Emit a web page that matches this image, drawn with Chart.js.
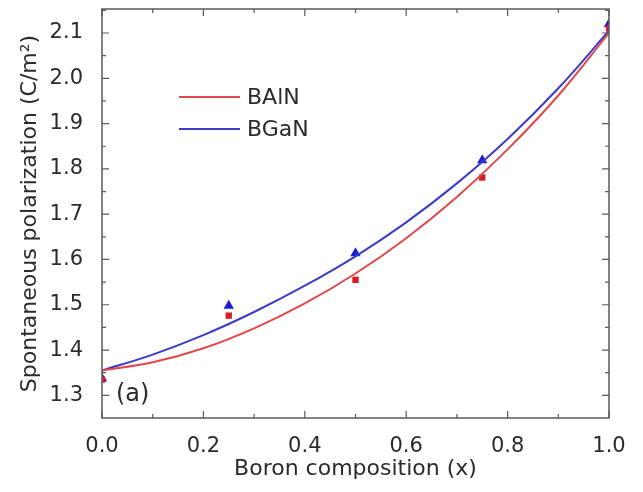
<!DOCTYPE html>
<html>
<head>
  <title>Spontaneous polarization vs boron composition</title>
  <script src="https://cdn.jsdelivr.net/npm/chart.js"></script>
  <style>
    body { margin: 0; background: #fff; }
    #wrap { width: 643px; height: 492px; }
  </style>
</head>
<body>
  <div id="wrap"><canvas id="polChart" width="643" height="492"></canvas></div>

  <script>
    // fitted curves, sampled every 0.1
    const fitX = [0, 0.1, 0.2, 0.3, 0.4, 0.5, 0.6, 0.7, 0.8, 0.9, 1.0];
    const balnFit = [1.355, 1.373, 1.404, 1.448, 1.503, 1.569, 1.647, 1.738, 1.843, 1.962, 2.100];
    const bganFit = [1.355, 1.390, 1.433, 1.484, 1.542, 1.607, 1.682, 1.768, 1.866, 1.978, 2.105];

    // calculated points
    const calcX = [0, 0.25, 0.5, 0.75, 1.0];
    const balnCalc = [1.335, 1.476, 1.555, 1.781, 2.110];
    const bganCalc = [1.337, 1.498, 1.614, 1.819, 2.120];

    const xTicks = [0, 0.2, 0.4, 0.6, 0.8, 1.0];
    const yTicks = [1.3, 1.4, 1.5, 1.6, 1.7, 1.8, 1.9, 2.0, 2.1];

    const seriesNames = ['BAlN', 'BGaN'];
    const lineColors = ['#e0484a', '#3c3cc4'];
    const markColors = ['#d41c24', '#1c1cd0'];

    const FONT = 'DejaVu Sans';
    const TEXT = '#2b2b2b';
    const FRAME = '#5a5a5a';

    const pairs = (xs, ys) => xs.map((x, i) => ({ x: x, y: ys[i] }));

    // inward ticks on all four sides + box frame, legend and panel tag
    const framePlugin = {
      id: 'frame',
      afterDraw(chart) {
        const { ctx, chartArea: a, scales } = chart;
        const xs = scales.x, ys = scales.y;
        ctx.save();
        ctx.strokeStyle = FRAME;
        ctx.lineWidth = 1.5;
        ctx.strokeRect(a.left, a.top, a.right - a.left, a.bottom - a.top);

        ctx.lineWidth = 1.2;
        ctx.beginPath();
        for (let i = 0; i <= 10; i++) {
          const v = i / 10;
          const len = i % 2 === 0 ? 7 : 4;
          const px = xs.getPixelForValue(v);
          ctx.moveTo(px, a.bottom); ctx.lineTo(px, a.bottom - len);
          ctx.moveTo(px, a.top); ctx.lineTo(px, a.top + len);
        }
        for (let i = 0; i <= 17; i++) {
          const v = 1.3 + i * 0.05;
          const len = i % 2 === 0 ? 7 : 4;
          const py = ys.getPixelForValue(v);
          ctx.moveTo(a.left, py); ctx.lineTo(a.left + len, py);
          ctx.moveTo(a.right, py); ctx.lineTo(a.right - len, py);
        }
        ctx.stroke();

        // legend
        ctx.font = '22px "' + FONT + '"';
        ctx.textBaseline = 'middle';
        ctx.textAlign = 'left';
        seriesNames.forEach((name, i) => {
          const y = 97 + i * 32;
          ctx.strokeStyle = lineColors[i];
          ctx.lineWidth = 2;
          ctx.beginPath();
          ctx.moveTo(179, y); ctx.lineTo(240, y);
          ctx.stroke();
          ctx.fillStyle = TEXT;
          ctx.fillText(name, 247, y + 1);
        });

        ctx.font = '24px "' + FONT + '"';
        ctx.fillText('(a)', 116, 395);
        ctx.restore();
      }
    };

    new Chart(document.getElementById('polChart').getContext('2d'), {
      type: 'scatter',
      data: {
        datasets: [
          {
            label: 'BAlN fit',
            data: pairs(fitX, balnFit),
            showLine: true,
            borderColor: lineColors[0],
            borderWidth: 2,
            pointRadius: 0,
            tension: 0.4
          },
          {
            label: 'BGaN fit',
            data: pairs(fitX, bganFit),
            showLine: true,
            borderColor: lineColors[1],
            borderWidth: 2,
            pointRadius: 0,
            tension: 0.4
          },
          {
            label: 'BAlN',
            data: pairs(calcX, balnCalc),
            pointStyle: 'rect',
            pointRadius: 4.5,
            backgroundColor: markColors[0],
            borderColor: markColors[0],
            borderWidth: 0
          },
          {
            label: 'BGaN',
            data: pairs(calcX, bganCalc),
            pointStyle: 'triangle',
            pointRadius: 6,
            backgroundColor: markColors[1],
            borderColor: markColors[1],
            borderWidth: 0
          }
        ]
      },
      options: {
        responsive: false,
        animation: false,
        layout: { padding: { top: 9, right: 34, left: 0, bottom: 0 } },
        plugins: { legend: { display: false }, tooltip: { enabled: false } },
        scales: {
          x: {
            type: 'linear',
            min: 0,
            max: 1,
            afterBuildTicks: s => { s.ticks = xTicks.map(v => ({ value: v })); },
            afterFit: s => { s.height = 74; s.paddingLeft = 0; s.paddingRight = 0; },
            grid: { display: false },
            border: { display: false },
            ticks: {
              callback: v => v.toFixed(1),
              font: { family: FONT, size: 21 },
              color: TEXT,
              padding: 8,
              maxRotation: 0
            },
            title: {
              display: true,
              text: 'Boron composition (x)',
              font: { family: FONT, size: 22 },
              color: TEXT,
              padding: { top: 0, bottom: 10 }
            }
          },
          y: {
            type: 'linear',
            min: 1.25,
            max: 2.153,
            afterBuildTicks: s => { s.ticks = yTicks.map(v => ({ value: v })); },
            afterFit: s => { s.width = 102; s.paddingTop = 0; s.paddingBottom = 0; },
            grid: { display: false },
            border: { display: false },
            ticks: {
              callback: v => v.toFixed(1),
              font: { family: FONT, size: 21 },
              color: TEXT,
              padding: 11
            },
            title: {
              display: true,
              text: 'Spontaneous polarization (C/m²)',
              font: { family: FONT, size: 22 },
              color: TEXT,
              padding: { top: 17, bottom: 0 }
            }
          }
        }
      },
      plugins: [framePlugin]
    });
  </script>
</body>
</html>
